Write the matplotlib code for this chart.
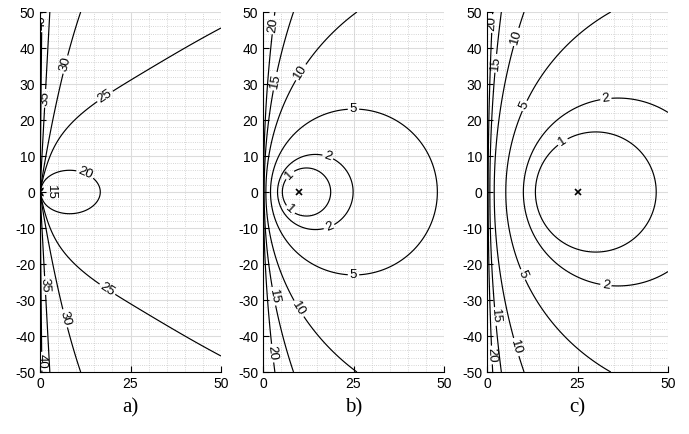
import numpy as np
import matplotlib
matplotlib.use("Agg")
import matplotlib.pyplot as plt

plt.rcParams['font.family'] = ['Liberation Sans', 'DejaVu Sans']
plt.rcParams['axes.unicode_minus'] = False

# ============================================================
# DATA
# ============================================================
PANEL_LABELS = ['a)', 'b)', 'c)']
SOURCE_X = [0, 10, 25]                  # vi tri dau "x" tren truc y = 0
LEVELS_A = [15, 20, 25, 30, 35, 40]
LEVELS_BC = [1, 2, 5, 10, 15, 20]
X_TICKS = [0, 25, 50]
Y_TICKS = list(range(-50, 51, 10))

# he so mo hinh truong (doc/uoc luong tu hinh)
A_OFFSET, A_SLOPE = 13.406, 6.926
A_AXIS_GAIN, A_R0, A_R0_POW = 0.553, 46.0, 3.5
A_RREF, A_C1, A_C1_POW = 71.3, 0.189, 5.574
BC_GAIN = 12.5

# vi tri nhan contour
LABEL_POS = [
    [(0.5, 47), (0.4, -47), (1.85, 26), (0.9, -26), (7.4, 35.3), (6.9, -35.1),
     (18.0, 26.5), (18.5, -27.2), (12.5, 5.2), (3.2, 0)],
    [(2.8, 46.4), (2.3, -44.8), (4.2, 30.6), (2.8, -29), (11.6, 32.5), (10.7, -31.9),
     (25, 22.1), (25, -22.6), (17.6, 8.9), (18, -9), (7.4, 4.7), (7.9, -4.5)],
    [(1.4, 46.8), (0.9, -45.3), (2.9, 35.7), (1.8, -34.6), (8.3, 43), (8.3, -43),
     (10.9, 23.7), (9.7, -23), (32.8, 26.2), (32.8, -26.3), (21.2, 13.5)],
]


def field_a(x, y):
    r = np.hypot(x, y)
    c = x / r
    w = y**2 / x + A_AXIS_GAIN * x / (1 + (r / A_R0)**A_R0_POW)
    g = 1 / (1 + (c / A_C1)**A_C1_POW)
    return A_OFFSET + A_SLOPE * np.log10(w) - A_SLOPE * g * np.log10(r / A_RREF)


def field_bc(d, x, y):
    d2 = (x - d)**2 + y**2
    dm2 = (x + d)**2 + y**2
    return BC_GAIN * np.log10((dm2 + d2) / (dm2 - d2))


x = np.linspace(1e-3, 50, 700)
y = np.linspace(-50, 50, 900)
GX, GY = np.meshgrid(x, y)

# ============================================================
# PLOT
# ============================================================
fig = plt.figure(figsize=(6.89, 4.34), dpi=100)
lefts = [40, 263, 487]

for k, lab in enumerate(PANEL_LABELS):
    ax = fig.add_axes([lefts[k] / 689, 62 / 434, 181 / 689, 360 / 434])
    d = SOURCE_X[k]
    if k == 0:
        Z = field_a(GX, GY)
        lv = LEVELS_A
    else:
        Z = field_bc(d, GX, GY)
        lv = LEVELS_BC

    cs = ax.contour(GX, GY, Z, levels=lv, colors='k', linewidths=0.85)
    ax.clabel(cs, fontsize=9.5, inline_spacing=2, manual=LABEL_POS[k])
    ax.plot([d], [0], 'kx', ms=4, mew=1.2)

    ax.set_xlim(0, 50)
    ax.set_ylim(-50, 50)
    ax.set_xticks(X_TICKS)
    ax.set_yticks(Y_TICKS)
    ax.set_xticks(np.arange(0, 51, 5), minor=True)
    ax.set_yticks(np.arange(-50, 51, 2), minor=True)
    ax.grid(True, which='major', color='#dcdcdc', lw=0.8)
    ax.grid(True, which='minor', color='#c8c8c8', lw=0.6, ls=':')
    ax.set_axisbelow(True)
    for sp in ['top', 'right']:
        ax.spines[sp].set_visible(False)
    ax.tick_params(which='major', direction='in', length=4, labelsize=10)
    ax.tick_params(which='minor', length=0)

    fig.text((lefts[k] + 90.5) / 689, 0.06, lab, ha='center', va='center',
             fontsize=15, family='Liberation Serif')

fig.savefig("out.png", dpi=100)
